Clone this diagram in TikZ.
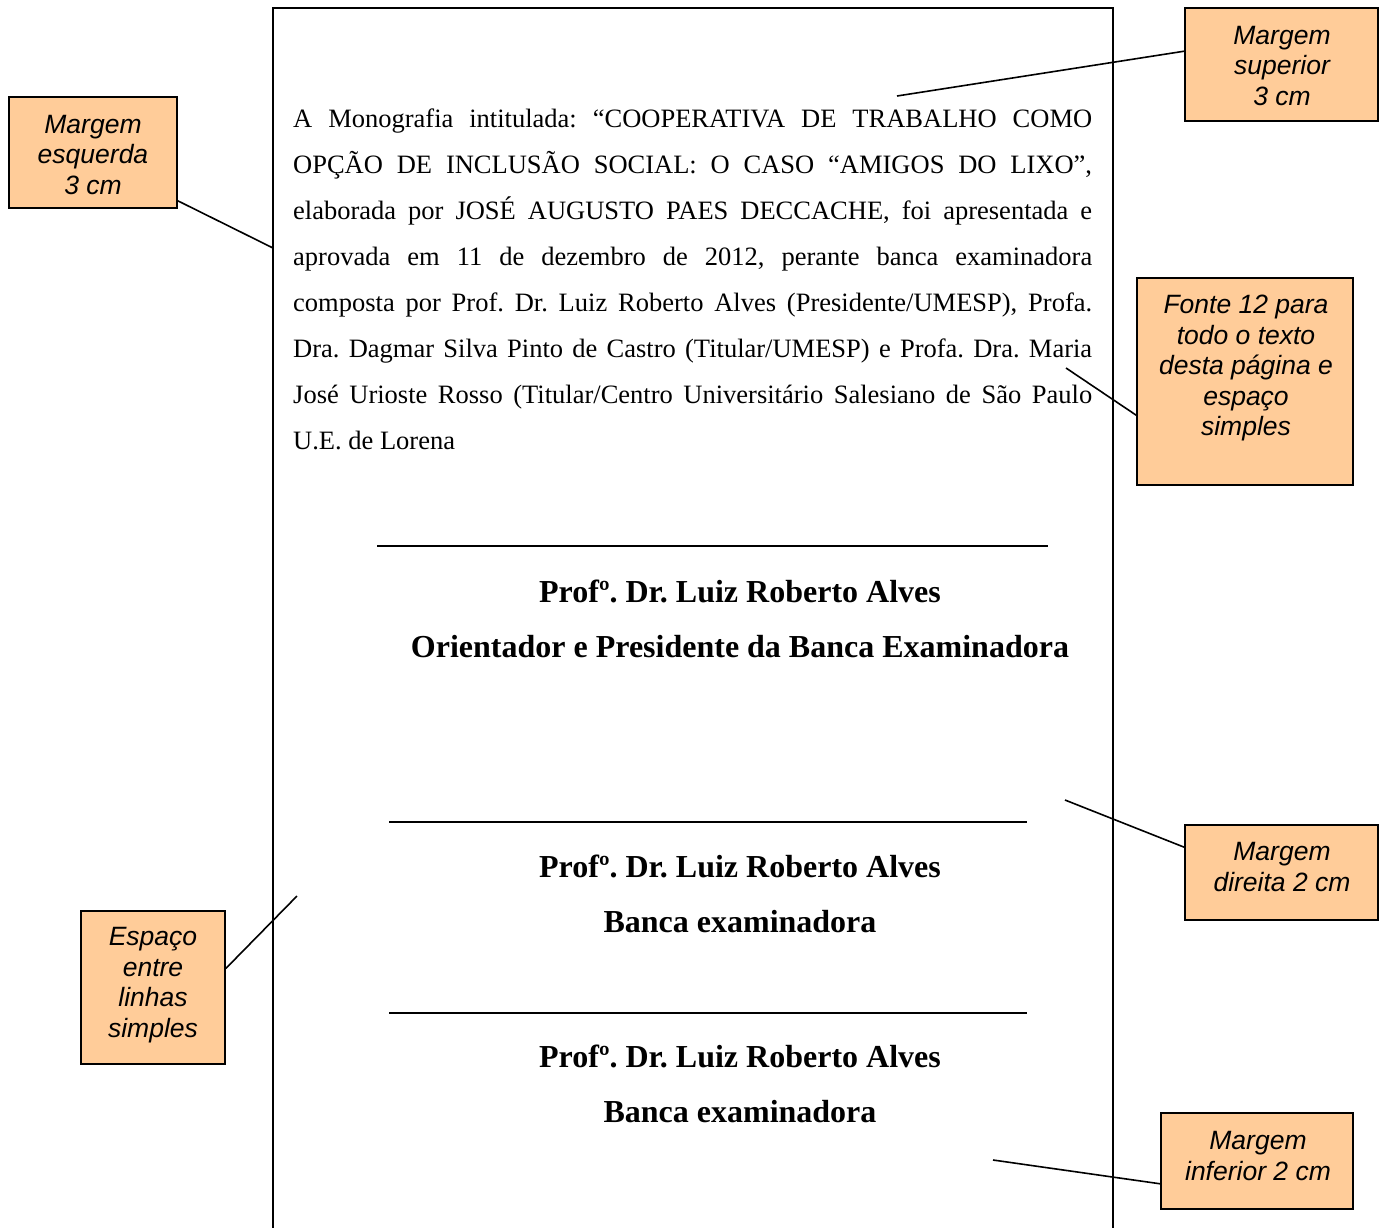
\documentclass[tikz,border=0pt]{standalone}
\usepackage{fontspec}
\setmainfont{Liberation Serif}
\newfontfamily\callfont{Liberation Sans}
\usetikzlibrary{calc}
\definecolor{notefill}{RGB}{255,204,153}
\frenchspacing
\begin{document}
\begin{tikzpicture}[x=1pt,y=-1pt,
  callout/.style={draw=black,line width=1.6pt,fill=notefill,inner sep=0pt},
  calltext/.style={font=\callfont\itshape\fontsize{26.5}{30.5}\selectfont,align=center,inner sep=0pt},
  bodyline/.style={anchor=base west,inner sep=0pt,font=\fontsize{26.5}{46}\selectfont},
  signame/.style={anchor=base,inner sep=0pt,font=\bfseries\fontsize{32}{40}\selectfont},
  sigline/.style={line width=1.8pt},
  leader/.style={line width=1.6pt},
  pageedge/.style={line width=2.2pt}]
\useasboundingbox (0,0) rectangle (1379,1227);
\fill[white] (0,0) rectangle (1379,1227);

% sheet outline
\coordinate (pgbl) at (273,1227);
\coordinate (pgtl) at (273,8);
\coordinate (pgtr) at (1113,8);
\coordinate (pgbr) at (1113,1227);
\draw[pageedge,line cap=rect] (pgbl) -- (pgtl) -- (pgtr) -- (pgbr);

% approval paragraph, one justified line per node
\node[bodyline] (l1) at (293,127) {\makebox[799pt][s]{A Monografia intitulada: “COOPERATIVA DE TRABALHO COMO}};
\node[bodyline] (l2) at (293,173) {\makebox[799pt][s]{OPÇÃO DE INCLUSÃO SOCIAL: O CASO “AMIGOS DO LIXO”,}};
\node[bodyline] (l3) at (293,219) {\makebox[799pt][s]{elaborada por JOSÉ AUGUSTO PAES DECCACHE, foi apresentada e}};
\node[bodyline] (l4) at (293,265) {\makebox[799pt][s]{aprovada em 11 de dezembro de 2012, perante banca examinadora}};
\node[bodyline] (l5) at (293,311) {\makebox[799pt][s]{composta por Prof. Dr. Luiz Roberto Alves (Presidente/UMESP), Profa.}};
\node[bodyline] (l6) at (293,357) {\makebox[799pt][s]{Dra. Dagmar Silva Pinto de Castro (Titular/UMESP) e Profa. Dra. Maria}};
\node[bodyline] (l7) at (293,403) {\makebox[799pt][s]{José Urioste Rosso (Titular/Centro Universitário Salesiano de São Paulo}};
\node[bodyline] (l8) at (293,449) {U.E. de Lorena};

% signature blocks
\draw[sigline] (377,546) -- (1048,546);
\node[signame] (s1a) at (740,602) {Profº. Dr. Luiz Roberto Alves};
\node[signame] (s1b) at (740,657) {Orientador e Presidente da Banca Examinadora};

\draw[sigline] (389,822) -- (1027,822);
\node[signame] (s2a) at (740,877) {Profº. Dr. Luiz Roberto Alves};
\node[signame] (s2b) at (740,932) {Banca examinadora};

\draw[sigline] (389,1013) -- (1027,1013);
\node[signame] (s3a) at (740,1067) {Profº. Dr. Luiz Roberto Alves};
\node[signame] (s3b) at (740,1122) {Banca examinadora};

% note boxes
\node[callout,minimum width=168pt,minimum height=111pt] (esq) at (93,152.5) {};
\node[calltext] (esqt) at (93,155) {Margem\\esquerda\\3 cm};

\node[callout,minimum width=193pt,minimum height=113pt] (sup) at (1281.5,64.5) {};
\node[calltext] (supt) at (1282,66) {Margem\\superior\\3 cm};

\node[callout,minimum width=216pt,minimum height=207pt] (fon) at (1245,381.5) {};
\node[calltext] (font) at (1246,368) {Fonte 12 para\\todo o texto\\desta página e\\espaço\\simples};

\node[callout,minimum width=193pt,minimum height=95pt] (dir) at (1281.5,872.5) {};
\node[calltext] (dirt) at (1282,867) {Margem\\direita 2 cm};

\node[callout,minimum width=144pt,minimum height=153pt] (esp) at (153,987.5) {};
\node[calltext] (espt) at (153,985) {Espaço\\entre\\linhas\\simples};

\node[callout,minimum width=192pt,minimum height=96pt] (inf) at (1257,1161) {};
\node[calltext] (inft) at (1258,1156) {Margem\\inferior 2 cm};

% leader lines
\coordinate (esqend) at (273,248);
\coordinate (supend) at (897,96);
\coordinate (fonend) at (1066,368);
\coordinate (dirend) at (1065,800);
\coordinate (espend) at (297,896);
\coordinate (infend) at (993,1160);

\draw[leader] ($(esq.south east)+(0,-8)$) -- (esqend);
\draw[leader] ($(sup.north west)+(0,44)$) -- (supend);
\draw[leader] ($(fon.north west)+(0,138)$) -- (fonend);
\draw[leader] ($(dir.north west)+(0,23)$) -- (dirend);
\draw[leader] (esp.east) ++(0,-19) -- (espend);
\draw[leader] ($(inf.south west)+(0,-26)$) -- (infend);
\end{tikzpicture}
\end{document}
